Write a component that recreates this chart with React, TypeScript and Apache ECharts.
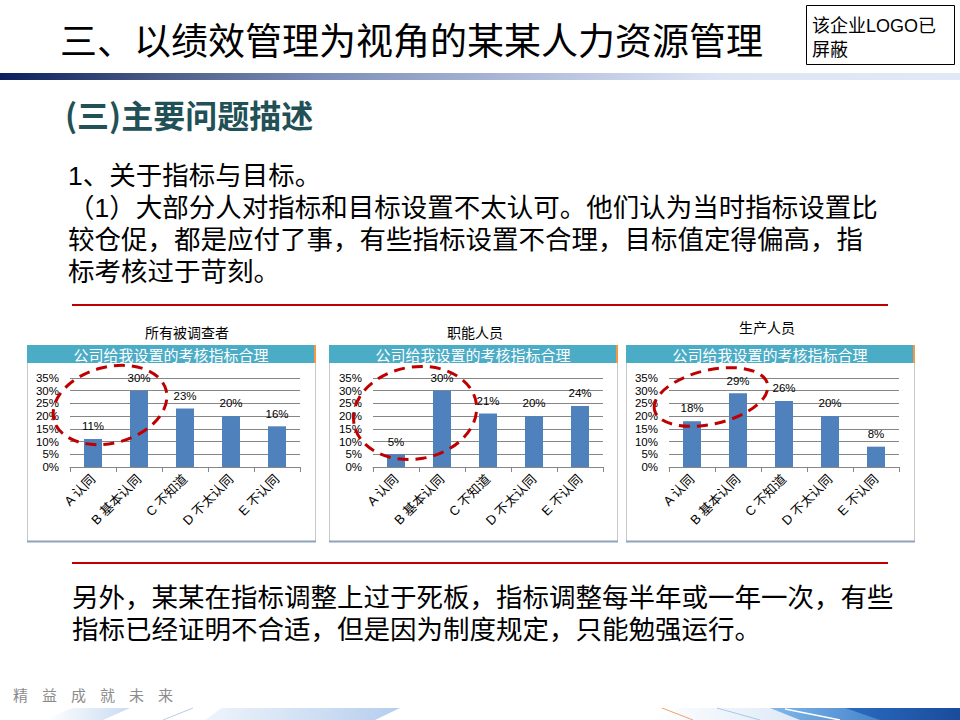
import React, { useEffect, useRef } from "react";
import * as echarts from "echarts";

const categories = ["A 认同", "B 基本认同", "C 不知道", "D 不太认同", "E 不认同"];
const allRespondents = [11, 30, 23, 20, 16];
const functionalStaff = [5, 30, 21, 20, 24];
const productionStaff = [18, 29, 26, 20, 8];
const seriesValues = [allRespondents, functionalStaff, productionStaff];
const groupTitles = ["所有被调查者", "职能人员", "生产人员"];
const panelTitle = "公司给我设置的考核指标合理";
const yMin = 0;
const yMax = 35;
const yStep = 5;

const pageTitle = "三、以绩效管理为视角的某某人力资源管理";
const logoLines = ["该企业LOGO已", "屏蔽"];
const sectionTitle = "(三)主要问题描述";
const bodyLines = [
  "1、关于指标与目标。",
  "（1）大部分人对指标和目标设置不太认可。他们认为当时指标设置比",
  "较仓促，都是应付了事，有些指标设置不合理，目标值定得偏高，指",
  "标考核过于苛刻。",
];
const bottomLines = [
  "另外，某某在指标调整上过于死板，指标调整每半年或一年一次，有些",
  "指标已经证明不合适，但是因为制度规定，只能勉强运行。",
];
const footerChars = ["精", "益", "成", "就", "未", "来"];

const CJK = '"Noto Sans CJK SC", "Noto Sans", sans-serif';
const LAT = '"Liberation Sans", "Noto Sans CJK SC", sans-serif';

const panels = [
  { x: 27, gridLeft: 70, subX: 187, subY: 332, ell: { cx: 110, cy: 405, rx: 58, ry: 38, rot: 15 } },
  { x: 329, gridLeft: 373, subX: 475, subY: 332, ell: { cx: 415, cy: 413, rx: 62, ry: 46, rot: 10 } },
  { x: 626, gridLeft: 669, subX: 767, subY: 327, ell: { cx: 711, cy: 397, rx: 58, ry: 27, rot: 13 } },
];

function txt(text: string, x: number, y: number, size: number, fill: string, opts: any = {}) {
  return {
    type: "text",
    x,
    y,
    z: opts.z ?? 10,
    style: {
      text,
      fill,
      fontSize: size,
      fontFamily: opts.family ?? CJK,
      fontWeight: opts.weight ?? "normal",
      lineHeight: opts.lineHeight ?? Math.round(size * 1.05),
      align: opts.align ?? "left",
      verticalAlign: "middle",
      textAlign: opts.align ?? "left",
      textVerticalAlign: "middle",
    },
  };
}

export default function App() {
  const ref = useRef<HTMLDivElement>(null);
  useEffect(() => {
    if (!ref.current) return;
    const chart = echarts.init(ref.current, undefined, { renderer: "svg" });

    const graphics: any[] = [];
    // Title
    graphics.push(txt(pageTitle, 60, 39, 37, "#000"));
    // logo box
    graphics.push({ type: "rect", shape: { x: 806.5, y: 5.5, width: 148, height: 59 }, style: { fill: "#fff", stroke: "#000", lineWidth: 1 }, z: 5 });
    graphics.push(txt(logoLines[0], 812, 26, 18, "#000", { family: LAT }));
    graphics.push(txt(logoLines[1], 812, 50, 18, "#000", { family: LAT }));
    // gradient bar
    graphics.push({
      type: "rect",
      shape: { x: 0, y: 73, width: 960, height: 7 },
      style: {
        fill: {
          type: "linear", x: 0, y: 0, x2: 1, y2: 0,
          colorStops: [
            { offset: 0, color: "#0a1f5c" },
            { offset: 0.167, color: "#4b5b87" },
            { offset: 0.333, color: "#7b8db8" },
            { offset: 0.625, color: "#c2cce5" },
            { offset: 0.75, color: "#dde5f5" },
            { offset: 1, color: "#e1e8f7" },
          ],
        },
      },
      z: 1,
    });
    // section title
    graphics.push(txt(sectionTitle, 65, 114, 32, "#215056", { weight: "bold" }));
    // body
    const bodyY = [176, 208, 240, 272];
    bodyLines.forEach((l, i) => graphics.push(txt(l, 68, bodyY[i], 26.5, "#000", { lineHeight: 27, family: LAT })));
    // red lines
    graphics.push({ type: "line", shape: { x1: 72, y1: 305, x2: 888, y2: 305 }, style: { stroke: "#C00000", lineWidth: 2 }, z: 5 });
    graphics.push({ type: "line", shape: { x1: 72, y1: 563, x2: 888, y2: 563 }, style: { stroke: "#C00000", lineWidth: 2 }, z: 5 });
    // bottom text
    const botY = [598, 630];
    bottomLines.forEach((l, i) => graphics.push(txt(l, 72, botY[i], 26.5, "#000", { lineHeight: 27, family: LAT })));
    // panels
    panels.forEach((p, i) => {
      graphics.push({ type: "rect", shape: { x: p.x + 0.5, y: 345.5, width: 288, height: 196 }, style: { fill: "none", stroke: "#c8c8c8", lineWidth: 1 }, z: 1 });
      graphics.push({ type: "rect", shape: { x: p.x, y: 345, width: 288, height: 18 }, style: { fill: "#4BACC6" }, z: 2 });
      graphics.push({ type: "rect", shape: { x: p.x + 287, y: 345, width: 2, height: 18 }, style: { fill: "#F79646" }, z: 3 });
      graphics.push({ type: "line", shape: { x1: p.x, y1: 541.5, x2: p.x + 289, y2: 541.5 }, style: { stroke: "#8fa3bb", lineWidth: 2 }, z: 3 });
      graphics.push(txt(panelTitle, p.x + 144, 354, 15, "#fff", { align: "center" }));
      graphics.push(txt(groupTitles[i], p.subX, p.subY, 14, "#000", { align: "center" }));
      graphics.push({
        type: "ellipse",
        x: p.ell.cx,
        y: p.ell.cy,
        rotation: (p.ell.rot * Math.PI) / 180,
        shape: { cx: 0, cy: 0, rx: p.ell.rx, ry: p.ell.ry },
        style: { fill: "none", stroke: "#C00000", lineWidth: 3, lineDash: [11, 7] },
        z: 100,
      });
    });
    // footer
    footerChars.forEach((c, i) => graphics.push(txt(c, 13 + i * 29, 694, 15, "#8c8c8c")));
    const lightGrad = (a: string, b: string) => ({
      type: "linear", x: 0, y: 0, x2: 1, y2: 0,
      colorStops: [{ offset: 0, color: a }, { offset: 1, color: b }],
    });
    graphics.push({ type: "polygon", shape: { points: [[45, 720], [72, 708], [130, 708], [103, 720]] }, style: { fill: lightGrad("#ffffff", "#c9dbf1") }, z: 2 });
    graphics.push({ type: "line", shape: { x1: 163, y1: 720, x2: 193, y2: 708 }, style: { stroke: "#b6cde9", lineWidth: 1 }, z: 2 });
    graphics.push({ type: "polygon", shape: { points: [[205, 720], [222, 708], [340, 708], [318, 720]] }, style: { fill: lightGrad("#eef4fb", "#c7daf1") }, z: 2 });
    graphics.push({ type: "polygon", shape: { points: [[300, 720], [330, 708], [400, 708], [375, 720]] }, style: { fill: lightGrad("#d3e2f4", "#b5cdee") }, z: 2 });
    graphics.push({ type: "line", shape: { x1: 662, y1: 708, x2: 693, y2: 720 }, style: { stroke: "#f0a070", lineWidth: 1 }, z: 2 });
    graphics.push({ type: "polygon", shape: { points: [[650, 720], [680, 708], [780, 708], [800, 720]] }, style: { fill: lightGrad("#ffffff", "#dde9f6") }, z: 1 });
    graphics.push({ type: "line", shape: { x1: 717, y1: 708, x2: 760, y2: 720 }, style: { stroke: "#a8c8e8", lineWidth: 1 }, z: 2 });
    graphics.push({ type: "polygon", shape: { points: [[770, 708], [960, 708], [960, 720], [800, 720]] }, style: { fill: lightGrad("#7fb8ea", "#1e5fb5") }, z: 2 });
    graphics.push({ type: "polygon", shape: { points: [[845, 708], [960, 708], [960, 720], [880, 720]] }, style: { fill: lightGrad("#2a6cc0", "#1a4b9c") }, z: 3 });
    graphics.push({ type: "line", shape: { x1: 785, y1: 709, x2: 840, y2: 720 }, style: { stroke: "#ffffff", lineWidth: 1.5 }, z: 4 });

    const grids = panels.map((p) => ({ left: p.gridLeft, top: 378, width: 230, height: 89 }));
    const xAxes = panels.map((_, i) => ({
      type: "category",
      gridIndex: i,
      data: categories,
      axisLine: { lineStyle: { color: "#868686", width: 1 } },
      axisTick: { show: true, length: 5, lineStyle: { color: "#868686" } },
      axisLabel: { rotate: 45, fontSize: 13, color: "#000", margin: 10, fontFamily: LAT, interval: 0 },
      z: 5,
    }));
    const yAxes = panels.map((_, i) => ({
      type: "value",
      gridIndex: i,
      min: yMin,
      max: yMax,
      interval: yStep,
      axisLine: { show: false },
      axisTick: { show: false },
      splitLine: { lineStyle: { color: "#868686", width: 1 } },
      axisLabel: { formatter: "{value}%", fontSize: 11.5, color: "#000", margin: 11, fontFamily: LAT },
      z: 5,
    }));
    const series = seriesValues.map((vals, i) => ({
      type: "bar",
      xAxisIndex: i,
      yAxisIndex: i,
      data: vals,
      barWidth: 18,
      itemStyle: { color: "#4F81BD" },
      label: {
        show: true,
        position: "top",
        distance: 7,
        formatter: (pp: any) => Math.round(pp.value) + "%",
        fontSize: 11.5,
        color: "#000",
        fontFamily: LAT,
      },
      z: 6,
    }));

    chart.setOption({
      animation: false,
      backgroundColor: "#ffffff",
      grid: grids,
      xAxis: xAxes,
      yAxis: yAxes,
      series,
      graphic: { elements: graphics },
    });
    return () => chart.dispose();
  }, []);
  return <div ref={ref} style={{ position: "absolute", left: 0, top: 0, width: 960, height: 720 }} />;
}
